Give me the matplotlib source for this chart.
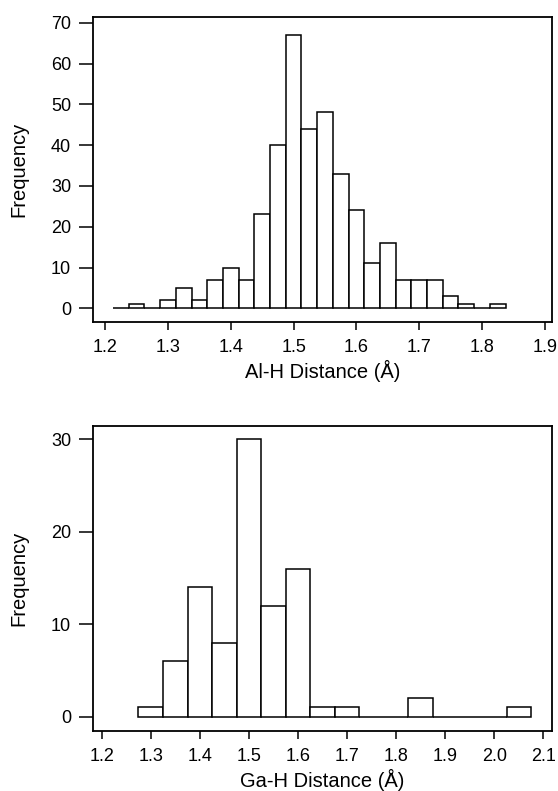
import matplotlib.pyplot as plt

# Al-H distances: bin centres (width 0.025 A) and counts
al_centers = [1.225, 1.250, 1.275, 1.300, 1.325, 1.350, 1.375, 1.400, 1.425,
              1.450, 1.475, 1.500, 1.525, 1.550, 1.575, 1.600, 1.625, 1.650,
              1.675, 1.700, 1.725, 1.750, 1.775, 1.800, 1.825]
al_counts = [0, 1, 0, 2, 5, 2, 7, 10, 7, 23, 40, 67, 44, 48, 33, 24, 11, 16,
             7, 7, 7, 3, 1, 0, 1]
al_ticks = [1.2, 1.3, 1.4, 1.5, 1.6, 1.7, 1.8, 1.9]
al_yticks = [0, 10, 20, 30, 40, 50, 60, 70]

# Ga-H distances: bin centres (width 0.05 A) and counts
ga_centers = [1.30, 1.35, 1.40, 1.45, 1.50, 1.55, 1.60, 1.65, 1.70, 1.75,
              1.80, 1.85, 1.90, 1.95, 2.00, 2.05]
ga_counts = [1, 6, 14, 8, 30, 12, 16, 1, 1, 0, 0, 2, 0, 0, 0, 1]
ga_ticks = [1.2, 1.3, 1.4, 1.5, 1.6, 1.7, 1.8, 1.9, 2.0, 2.1]
ga_yticks = [0, 10, 20, 30]

plt.rcParams['font.family'] = ['Liberation Sans', 'DejaVu Sans']


def draw(ax, centers, counts, width, xticks, yticks, xlim, ylim, xlabel):
    ax.bar(centers, counts, width=width, color='white', edgecolor='black',
           linewidth=1.1)
    ax.set_xlim(*xlim)
    ax.set_ylim(*ylim)
    ax.set_xticks(xticks)
    ax.set_xticklabels(['%.1f' % t for t in xticks])
    ax.set_yticks(yticks)
    ax.tick_params(axis='x', direction='out', length=6, width=1.1, pad=6,
                   labelsize=13)
    ax.tick_params(axis='y', direction='out', length=10, width=1.1, pad=6,
                   labelsize=13)
    for s in ax.spines.values():
        s.set_linewidth(1.3)
    ax.set_xlabel(xlabel, fontsize=14.5, labelpad=3)
    ax.set_ylabel('Frequency', fontsize=14.5, labelpad=16)


fig = plt.figure(figsize=(5.58, 7.91), dpi=100)
ax1 = fig.add_axes([0.1672, 0.5929, 0.8216, 0.3856])
ax2 = fig.add_axes([0.1672, 0.0759, 0.8216, 0.3859])

draw(ax1, al_centers, al_counts, 0.025, al_ticks, al_yticks,
     (1.181, 1.911), (-3.36, 71.4), 'Al-H Distance (Å)')
draw(ax2, ga_centers, ga_counts, 0.05, ga_ticks, ga_yticks,
     (1.183, 2.117), (-1.55, 31.47), 'Ga-H Distance (Å)')

fig.savefig('out.png', dpi=100)
